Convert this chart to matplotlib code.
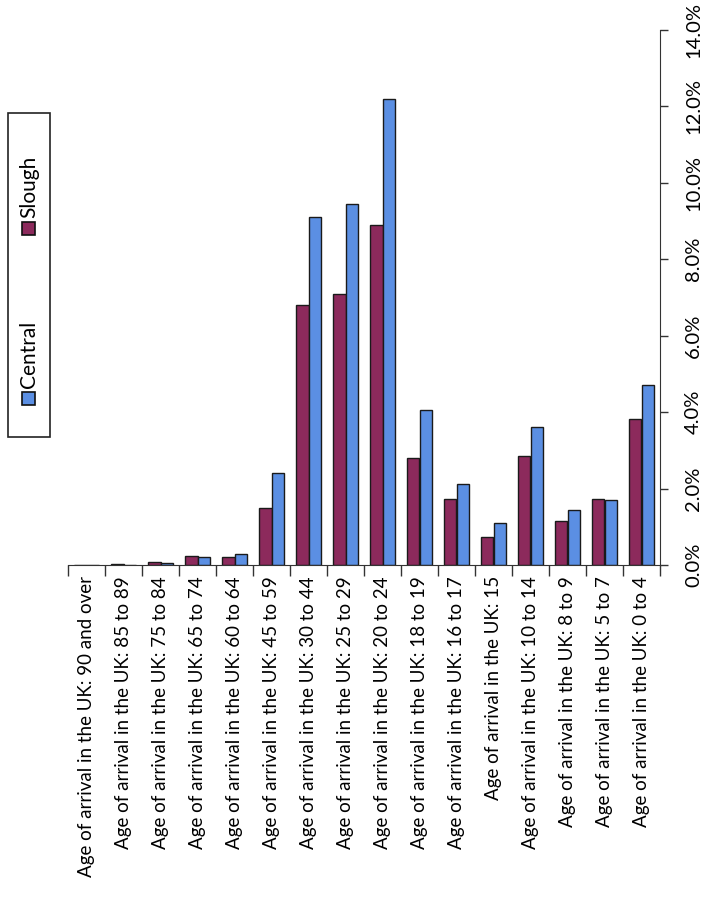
import matplotlib.pyplot as plt
import numpy as np
from matplotlib.patches import Rectangle
from matplotlib.ticker import FixedLocator, PercentFormatter

plt.rcParams['font.family'] = ['Lato', 'DejaVu Sans']

categories = [
    "Age of arrival in the UK: 90 and over",
    "Age of arrival in the UK: 85 to 89",
    "Age of arrival in the UK: 75 to 84",
    "Age of arrival in the UK: 65 to 74",
    "Age of arrival in the UK: 60 to 64",
    "Age of arrival in the UK: 45 to 59",
    "Age of arrival in the UK: 30 to 44",
    "Age of arrival in the UK: 25 to 29",
    "Age of arrival in the UK: 20 to 24",
    "Age of arrival in the UK: 18 to 19",
    "Age of arrival in the UK: 16 to 17",
    "Age of arrival in the UK: 15",
    "Age of arrival in the UK: 10 to 14",
    "Age of arrival in the UK: 8 to 9",
    "Age of arrival in the UK: 5 to 7",
    "Age of arrival in the UK: 0 to 4",
]
slough = [0.0, 0.03, 0.07, 0.23, 0.2, 1.5, 6.8, 7.1, 8.9, 2.8, 1.73, 0.72, 2.85, 1.15, 1.73, 3.82]
central = [0.0, 0.01, 0.05, 0.21, 0.28, 2.4, 9.1, 9.45, 12.2, 4.05, 2.12, 1.1, 3.62, 1.45, 1.7, 4.7]
value_ticks = [0, 2, 4, 6, 8, 10, 12, 14]

slough_col = '#8c2a5c'
central_col = '#5b8fe3'

W, H = 710, 916
fig = plt.figure(figsize=(W / 100, H / 100), dpi=100)
ax = fig.add_axes([68 / W, 1 - 565 / H, (660 - 68) / W, (565 - 30) / H])

x = np.arange(len(categories))
bw = 0.35
ax.bar(x - bw / 2, slough, bw, color=slough_col, edgecolor='#1a1a1a', linewidth=1.0)
ax.bar(x + bw / 2, central, bw, color=central_col, edgecolor='#1a1a1a', linewidth=1.0)

ax.set_xlim(-0.5, len(categories) - 0.5)
ax.set_ylim(0, 14)

ax.yaxis.tick_right()
ax.yaxis.set_major_locator(FixedLocator(value_ticks))
ax.yaxis.set_major_formatter(PercentFormatter(decimals=1))
ax.tick_params(axis='y', direction='out', length=6, width=1, pad=12, labelsize=14.5, color='#333333')
for lab in ax.get_yticklabels():
    lab.set_rotation(90)
    lab.set_va('center')

ax.set_xticks(x)
ax.set_xticklabels(categories, rotation=90, ha='center', va='top', fontsize=13.5)
ax.tick_params(axis='x', which='major', length=0, pad=8)
ax.set_xticks(np.arange(len(categories) + 1) - 0.5, minor=True)
ax.tick_params(axis='x', which='minor', direction='out', length=8, width=1, color='#333333')

for s in ['top', 'left']:
    ax.spines[s].set_visible(False)
ax.spines['bottom'].set_color('#333333')
ax.spines['right'].set_color('#333333')

# legend box, rotated like the chart
fig.add_artist(Rectangle((8 / W, 1 - 437 / H), 42 / W, 324 / H, transform=fig.transFigure,
                         facecolor='white', edgecolor='#222222', linewidth=1.2))
for col, name, ypx in [(central_col, 'Central', 398), (slough_col, 'Slough', 228)]:
    fig.add_artist(Rectangle((22 / W, 1 - (ypx + 7) / H), 13 / W, 13 / H, transform=fig.transFigure,
                             facecolor=col, edgecolor='#111111', linewidth=1.2))
    fig.text(29 / W, 1 - (ypx - 10) / H, name, rotation=90, ha='center', va='bottom', fontsize=15)

fig.savefig('out.png', dpi=100, facecolor='white')
